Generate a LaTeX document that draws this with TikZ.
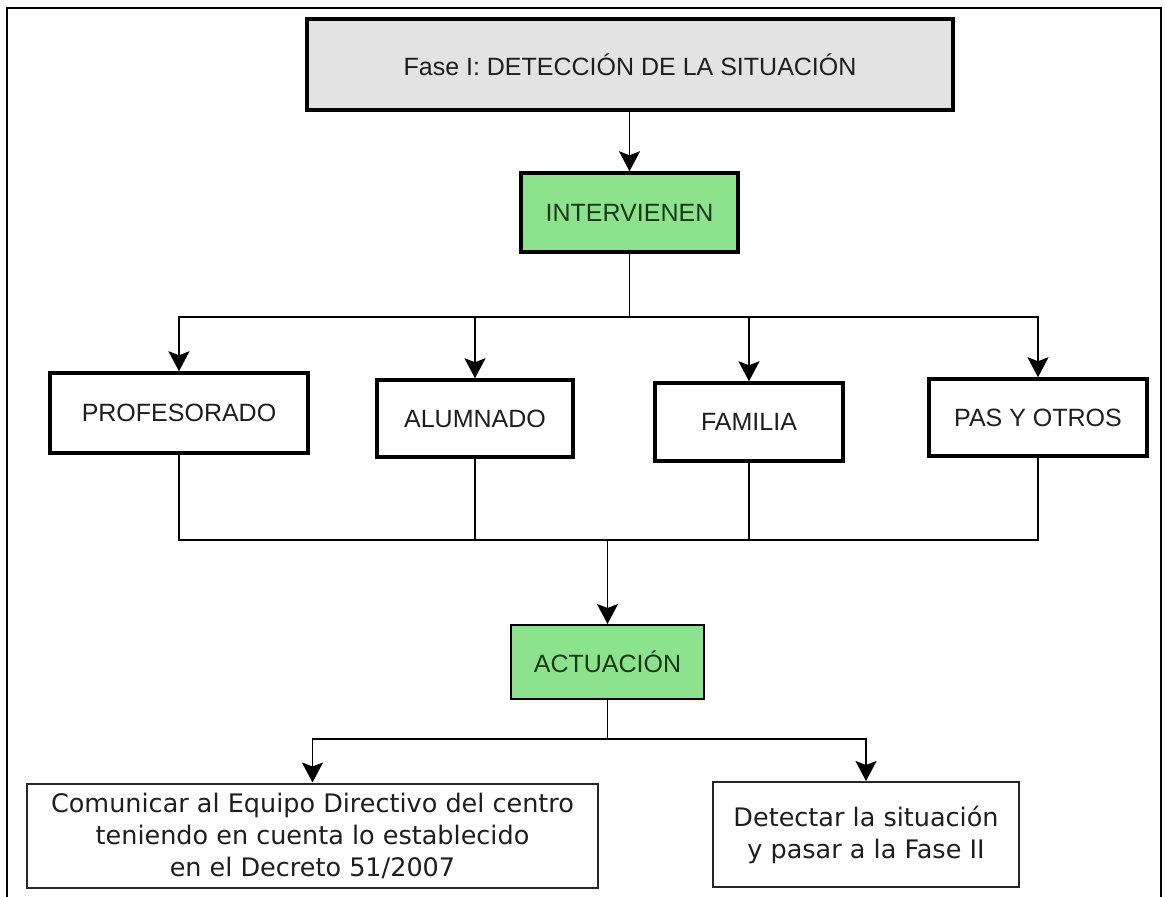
\documentclass[tikz,border=0pt]{standalone}
\usepackage{fontspec}
\setmainfont{Liberation Sans}
\newfontfamily\sentencefont{DejaVu Sans}
\usetikzlibrary{arrows.meta}
\definecolor{boxgray}{RGB}{227,227,227}
\definecolor{boxgreen}{RGB}{141,227,141}
\definecolor{txtgreen}{RGB}{22,58,22}
\definecolor{txtdark}{RGB}{30,30,30}
\tikzset{
  heavybox/.style={draw=black, line width=3.5pt, inner sep=0pt, align=center, text=txtdark,
    font=\fontsize{25}{30}\selectfont},
  greenbox/.style={heavybox, fill=boxgreen, text=txtgreen},
  lightbox/.style={draw=black!85, line width=2pt, inner sep=0pt, align=center, text=txtdark,
    font=\sentencefont\fontsize{25.5}{32}\selectfont},
  conn/.style={draw=black, line width=1.8pt},
  arr/.style={conn, -{Stealth[length=20pt, width=21pt, inset=4pt]}}
}
\begin{document}
\begin{tikzpicture}[x=1pt, y=-1pt]
\useasboundingbox (0,0) rectangle (1165,897);
\fill[white] (0,0) rectangle (1165,897);
% outer frame
\draw[line width=2pt] (7,897) -- (7,7.5) -- (1161,7.5) -- (1161,897);

\node[heavybox, fill=boxgray, minimum width=646pt, minimum height=91pt] (fase) at (630,64.5) {Fase I: DETECCIÓN DE LA SITUACIÓN};
\node[greenbox, minimum width=217pt, minimum height=79pt] (inter) at (629.5,212.5) {INTERVIENEN};

\node[heavybox, minimum width=258pt, minimum height=80pt] (prof) at (179,413) {PROFESORADO};
\node[heavybox, minimum width=196pt, minimum height=77pt] (alum) at (475,418.5) {ALUMNADO};
\node[heavybox, minimum width=188pt, minimum height=78pt] (fam) at (749,422) {FAMILIA};
\node[heavybox, minimum width=218pt, minimum height=77pt] (pas) at (1038,417.5) {PAS Y OTROS};

\node[greenbox, line width=2pt, minimum width=193pt, minimum height=74pt] (act) at (607.5,662) {ACTUACIÓN};

\node[lightbox, minimum width=571pt, minimum height=104pt] (com) at (312.5,835.5) {Comunicar al Equipo Directivo del centro\\teniendo en cuenta lo establecido\\en el Decreto 51/2007};
\node[lightbox, minimum width=306pt, minimum height=105pt] (det) at (866,834.5) {Detectar la situación\\y pasar a la Fase II};

\coordinate (split) at (629.5,317);
\coordinate (merge) at (607.5,540);
\coordinate (split2) at (607.5,739);

\draw[arr] (fase.south -| inter.north) -- (inter.north);
\draw[conn] (inter.south) -- (split);
\draw[arr] (split) -| (prof.north);
\draw[arr] (split) -| (alum.north);
\draw[arr] (split) -| (fam.north);
\draw[arr] (split) -| (pas.north);

\draw[conn] (prof.south) |- (merge);
\draw[conn] (alum.south) |- (merge);
\draw[conn] (fam.south) |- (merge);
\draw[conn] (pas.south) |- (merge);
\draw[arr] (merge) -- (act.north);

\draw[conn] (act.south) -- (split2);
\draw[arr] (split2) -| (com.north);
\draw[arr] (split2) -| (det.north);
\end{tikzpicture}
\end{document}
